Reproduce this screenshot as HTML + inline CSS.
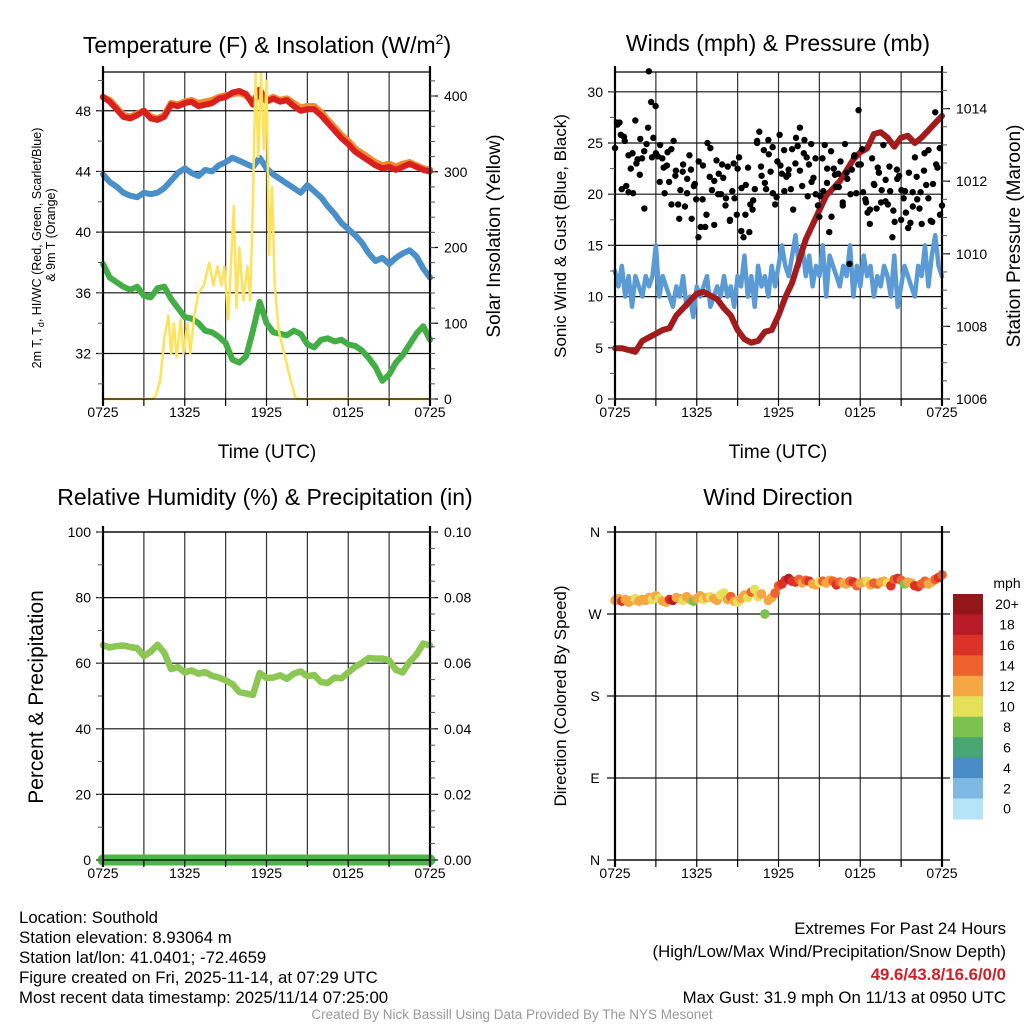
<!DOCTYPE html>
<html><head><meta charset="utf-8"><style>
html,body{margin:0;padding:0;background:#fff;}
svg{display:block;font-family:"Liberation Sans",sans-serif;}
.tk{font-size:14px;fill:#000;}
.ttl{font-size:23px;fill:#000;}
.ax{font-size:19px;fill:#000;}
.ft{font-family:"Liberation Sans",sans-serif;font-size:16.8px;fill:#000;}
</style></head><body>
<svg id="chart" width="1024" height="1024" viewBox="0 0 1024 1024" xmlns="http://www.w3.org/2000/svg">
<rect width="1024" height="1024" fill="#fff"/>
<g id="grids"></g>
<g id="series"></g>
<g id="axes"></g>

<text class="ttl" x="267" y="53" text-anchor="middle">Temperature (F) &amp; Insolation (W/m<tspan dy="-9" font-size="14">2</tspan><tspan dy="9">)</tspan></text>
<text class="ttl" x="778" y="51" text-anchor="middle">Winds (mph) &amp; Pressure (mb)</text>
<text class="ttl" x="265" y="505" text-anchor="middle">Relative Humidity (%) &amp; Precipitation (in)</text>
<text class="ttl" x="778" y="505" text-anchor="middle">Wind Direction</text>

<text class="ax" x="267" y="458" text-anchor="middle">Time (UTC)</text>
<text class="ax" x="778" y="458" text-anchor="middle">Time (UTC)</text>

<text font-size="12.5" text-anchor="middle" transform="translate(41,248) rotate(-90)">2m T, T<tspan font-size="9" dy="3">d</tspan><tspan dy="-3">, HI/WC (Red, Green, Scarlet/Blue)</tspan></text>
<text font-size="12.5" text-anchor="middle" transform="translate(55,235) rotate(-90)">&amp; 9m T (Orange)</text>
<text class="ax" text-anchor="middle" transform="translate(500,236) rotate(-90)">Solar Insolation (Yellow)</text>
<text font-size="17" text-anchor="middle" transform="translate(566,236) rotate(-90)">Sonic Wind &amp; Gust (Blue, Black)</text>
<text class="ax" text-anchor="middle" transform="translate(1020,236) rotate(-90)">Station Pressure (Maroon)</text>
<text font-size="21" text-anchor="middle" transform="translate(43,697) rotate(-90)">Percent &amp; Precipitation</text>
<text font-size="17" text-anchor="middle" transform="translate(566,696) rotate(-90)">Direction (Colored By Speed)</text>

<g id="colorbar"></g>
<text class="tk" x="1007" y="588" text-anchor="middle">mph</text>

<g>
<text class="ft" x="19" y="923">Location: Southold</text>
<text class="ft" x="19" y="943">Station elevation: 8.93064 m</text>
<text class="ft" x="19" y="963">Station lat/lon: 41.0401; -72.4659</text>
<text class="ft" x="19" y="983">Figure created on Fri, 2025-11-14, at 07:29 UTC</text>
<text class="ft" x="19" y="1003">Most recent data timestamp: 2025/11/14 07:25:00</text>
</g>
<g>
<text class="ft" x="1006" y="934" text-anchor="end">Extremes For Past 24 Hours</text>
<text class="ft" x="1006" y="957" text-anchor="end">(High/Low/Max Wind/Precipitation/Snow Depth)</text>
<text class="ft" x="1006" y="980" text-anchor="end" font-weight="bold" style="fill:#d02027">49.6/43.8/16.6/0/0</text>
<text class="ft" x="1006" y="1003" text-anchor="end">Max Gust: 31.9 mph On 11/13 at 0950 UTC</text>
</g>
<text x="512" y="1019" text-anchor="middle" font-family="'Liberation Sans',sans-serif" font-size="13.5" fill="#999">Created By Nick Bassill Using Data Provided By The NYS Mesonet</text>
</svg>
<script>
const timeLabels = ["0725","1325","1925","0125","0725"];
const tempTicks = [32,36,40,44,48];
const solarTicks = [0,100,200,300,400];
const windTicks = [0,5,10,15,20,25,30];
const presTicks = [1006,1008,1010,1012,1014];
const rhTicks = [0,20,40,60,80,100];
const precipTicks = ["0.00","0.02","0.04","0.06","0.08","0.10"];
const dirLabels = ["N","E","S","W","N"];
const speedBins = ["0","2","4","6","8","10","12","14","16","18","20+"];
const speedColors = ["#b5e3f7","#7db9e3","#4a8dc6","#47a672","#7cc24e","#e5e05a","#f5a744","#ef612d","#db3127","#b81b25","#92161a"];

const tempRed = [48.9,48.6,48.1,47.6,47.5,47.7,48.0,47.5,47.4,47.6,48.4,48.3,48.5,48.6,48.3,48.4,48.5,48.8,48.9,49.2,49.3,49.1,48.4,49.4,48.6,48.8,48.6,48.7,48.3,48.0,48.1,48.1,47.7,47.2,46.7,46.2,45.8,45.3,45.0,44.7,44.4,44.2,44.3,44.1,44.3,44.5,44.3,44.1,44.0];
const tempOrange = [48.9,48.7,48.2,47.7,47.6,47.8,48.0,47.6,47.5,47.7,48.5,48.4,48.6,48.7,48.5,48.6,48.7,48.9,49.0,49.1,49.2,49.0,48.6,49.3,48.7,48.9,48.7,48.8,48.5,48.2,48.3,48.3,47.9,47.4,46.9,46.4,46.0,45.5,45.2,44.9,44.6,44.4,44.5,44.3,44.5,44.6,44.4,44.2,44.1];
const tempBlue = [43.8,43.3,43.0,42.6,42.4,42.3,42.6,42.5,42.6,42.9,43.4,43.9,44.2,43.9,43.7,44.1,44.0,44.4,44.6,44.9,44.7,44.5,44.3,44.9,44.2,43.8,43.5,43.2,42.9,42.6,43.1,42.7,42.3,41.7,41.2,40.6,40.2,39.8,39.3,38.6,38.1,38.3,37.9,38.3,38.6,38.8,38.4,37.6,37.0];
const tempGreen = [37.9,37.0,36.7,36.4,36.2,36.4,35.8,35.7,36.3,36.4,35.6,35.0,34.4,34.3,34.0,33.5,33.4,33.1,32.7,31.6,31.4,31.8,33.5,35.4,34.0,33.4,33.3,33.2,33.5,33.3,32.6,32.4,32.9,33.0,32.8,32.9,32.6,32.5,32.2,31.7,31.1,30.2,30.6,31.4,31.9,32.6,33.3,33.8,32.9];
const solarHours = [0,3.6,3.9,4.2,4.5,4.8,5.0,5.2,5.4,5.7,5.9,6.2,6.4,6.7,7.0,7.4,7.8,8.1,8.4,8.7,8.9,9.2,9.4,9.6,9.8,10.0,10.3,10.6,10.8,11.0,11.2,11.4,11.6,11.8,12.0,12.2,12.4,12.6,12.9,13.3,13.7,14.1,14.3,24];
const solarValues = [0,0,5,25,80,110,60,100,55,105,60,100,60,110,140,150,180,150,175,150,175,105,180,255,120,200,130,175,130,260,430,320,430,330,420,190,280,150,90,60,30,3,0,0];

const windSpeed = [12.5,11,13,10,12,9,12,11,10,12,11,12,15,10,12,11,10,9,11,10,12,9,10,8,11,10,11,12,9,10,11,10,12,10,11,9,12,11,14,10,12,9,13,11,12,10,13,11,13,15,13,12,14,16,13,15,12,14,11,13,12,15,10,14,13,12,11,13,12,15,10,13,11,14,12,13,10,12,11,13,12,10,14,9,11,13,12,11,10,13,12,15,11,14,16,13,12];
const gustValues = [24.5,26.8,27.0,20.5,25.6,20.8,23.8,22.5,20.1,27.2,23.4,21.9,23.5,18.6,24.9,32.0,29.0,25.5,28.6,23.7,24.8,23.5,20.1,22.8,21.2,24.4,25.2,22.3,19.0,20.4,22.2,18.8,21.5,23.8,17.6,20.8,19.5,15.8,16.8,22.8,16.8,25.0,21.7,20.4,17.0,23.3,22.0,20.0,21.6,18.9,22.7,17.5,20.3,19.6,18.0,23.6,16.4,15.8,20.9,22.6,19.0,18.5,20.5,25.0,26.1,21.8,24.3,20.5,25.3,22.2,20.1,19.0,23.2,25.8,22.0,24.3,21.7,22.4,20.5,18.5,23.0,24.7,26.5,20.8,25.3,23.6,22.9,24.9,21.6,20.0,18.9,19.8,23.5,24.8,21.1,16.3,17.8,22.5,20.7,22.0,23.2,18.9,24.9,21.5,13.2,22.4,23.7,20.1,28.2,22.9,20.2,19.5,18.2,17.1,23.5,20.9,18.6,22.1,19.2,24.8,21.4,19.0,20.3,15.8,17.3,22.4,21.8,20.4,19.6,18.2,16.7,17.2,20.2,23.6,19.5,18.6,17.1,22.3,20.9,24.3,17.4,21.0,28.0,22.6,24.5,18.9];
const gustValues2 = [27.0,25.8,25.2,20.2,24.0,23.0,25.4,24.2,26.5,23.6,24.0,21.2,22.6,24.1,19.0,21.8,17.6,22.9,20.1,22.4,21.0,23.2,19.5,18.0,24.5,21.3,20.0,22.9,19.6,17.4,23.0,22.5,20.6,18.0,16.3,19.4,25.2,22.7,21.1,23.9,24.6,19.7,22.8,20.3,21.9,24.4,25.5,22.3,24.0,19.8,21.2,23.5,17.8,20.3,22.5,24.2,21.9,20.7,19.2,22.1,20.0,23.8,22.9,24.4,19.2,18.5,21.0,22.6,20.4,19.3,22.7,18.4,21.5,17.5,20.3,22.1,18.8,21.7,20.2,24.0,19.6,17.3,22.9,18.0];
const pressure = [1007.4,1007.4,1007.35,1007.3,1007.6,1007.7,1007.8,1007.9,1007.95,1008.3,1008.5,1008.7,1008.9,1008.95,1008.85,1008.75,1008.5,1008.3,1007.9,1007.65,1007.55,1007.6,1007.85,1007.9,1008.3,1008.8,1009.2,1009.8,1010.4,1010.8,1011.2,1011.6,1011.8,1012.0,1012.3,1012.6,1012.8,1012.9,1013.3,1013.35,1013.2,1012.95,1013.2,1013.25,1013.05,1013.2,1013.4,1013.6,1013.8];

const humidity = [65.5,64.8,65.2,65.4,64.9,64.6,62.2,63.5,65.6,63.2,58.2,58.8,57.2,57.8,56.8,57.3,56.2,55.6,54.8,53.6,51.2,50.8,50.3,57.0,55.5,55.6,56.3,55.2,56.8,57.5,56.0,56.4,54.2,54.0,55.6,55.4,57.2,58.9,60.1,61.6,61.4,61.4,60.9,58.0,57.2,60.4,62.6,66.0,65.4];
const precip = [0,0,0,0,0,0,0,0,0,0,0,0,0,0,0,0,0,0,0,0,0,0,0,0,0];

const windDir = [285,287,284,286,283,285,287,284,286,285,288,286,290,287,284,283,286,285,288,287,285,289,286,284,287,290,286,288,289,287,285,291,293,286,289,284,283,287,291,288,294,297,289,292,270,285,288,293,301,303,307,309,306,305,308,304,307,306,303,302,305,306,304,307,306,302,305,304,303,306,305,301,304,305,306,302,304,303,305,306,304,301,308,309,307,303,305,304,301,300,303,306,303,305,308,310,313];
const dirSpeed = [13,12,16,12,13,12,11,12,13,12,13,11,12,10,12,13,17,18,13,12,11,13,12,8,12,13,11,12,10,13,12,11,10,12,14,12,10,12,13,10,14,10,11,12,8,12,13,14,15,16,17,18,17,16,14,13,15,16,12,13,11,14,12,13,15,16,14,12,13,14,16,15,12,13,11,12,14,15,13,12,11,16,15,17,14,8,12,13,16,17,14,15,12,13,14,16,15];

const NS = "http://www.w3.org/2000/svg";
const gGrid = document.getElementById("grids");
const gSer = document.getElementById("series");
const gAx = document.getElementById("axes");
const gCb = document.getElementById("colorbar");
function mk(tag, attrs, parent){const e=document.createElementNS(NS,tag);for(const k in attrs)e.setAttribute(k,attrs[k]);parent.appendChild(e);return e;}

const P = {
  temp:{L:103,R:430,T:72,B:399},
  wind:{L:615,R:942,T:72,B:399},
  rh:{L:103,R:430,T:532,B:860},
  dir:{L:615,R:942,T:532,B:860}
};
function xAt(p,h){return p.L + h/24*(p.R-p.L);}
const yTemp = v => 399 - (v-29)*15.17;
const ySolar = v => 399 - v*0.7575;
const yWind = v => 399 - v*10.24;
const yPres = v => 399 - (v-1006)*36.3;
const yRH = v => 860 - v*3.28;
const yPrecip = v => 860 - v*3280;
const yDir = d => 860 - d/360*328;

function idxHour(i,n){return i/(n-1)*24;}

function frame(p, key){
  for(let k=1;k<8;k++){
    const x=xAt(p,k*3);
    const l=mk("line",{x1:x,x2:x,y1:p.T,y2:p.B,stroke:"#333","stroke-width":1.2},gGrid);
    
    
  }
  const top=mk("line",{x1:p.L,x2:p.R,y1:p.T,y2:p.T,stroke:"#000","stroke-width":1.3},gAx);
  
  
  const bot=mk("line",{x1:p.L,x2:p.R,y1:p.B,y2:p.B,stroke:"#000","stroke-width":1.3},gAx);
  
  
  const lf=mk("line",{x1:p.L,x2:p.L,y1:p.T-6,y2:p.B+7,stroke:"#000","stroke-width":2.2},gAx);
  
  
  const rt=mk("line",{x1:p.R,x2:p.R,y1:p.T-6,y2:p.B+7,stroke:"#000","stroke-width":2.2},gAx);
  
  
  for(let k=0;k<=8;k++){
    const x=xAt(p,k*3);
    const t=mk("line",{x1:x,x2:x,y1:p.B,y2:p.B+7,stroke:"#000","stroke-width":1.2},gAx);
    
    
  }
  timeLabels.forEach((s,i)=>{
    const t=mk("text",{x:xAt(p,i*6),y:p.B+18,"text-anchor":"middle",class:"tk"},gAx);
    t.textContent=s;
    
    
  });
}
function yTicks(p,key,ticks,yf,side,labels,minor){
  ticks.forEach((v,i)=>{
    const y=yf(v);
    if(side==="left"){
      const g=mk("line",{x1:p.L-7,x2:p.R,y1:y,y2:y,stroke:"#111","stroke-width":1.2},gGrid);
      
      
      const t=mk("text",{x:p.L-12,y:y+5,"text-anchor":"end",class:"tk"},gAx);
      t.textContent=labels?labels[i]:String(v);
      
      
    } else {
      const g=mk("line",{x1:p.R,x2:p.R+8,y1:y,y2:y,stroke:"#000","stroke-width":1.2},gAx);
      
      
      const t=mk("text",{x:p.R+14,y:y+5,"text-anchor":"start",class:"tk"},gAx);
      t.textContent=labels?labels[i]:String(v);
      
      
    }
  });
  if(minor){
    for(let v=minor[0]; v<=minor[1]+1e-9; v+=minor[2]){
      const y=yf(v); if(y<p.T-1||y>p.B+1) continue;
      const m = side==="left" ? mk("line",{x1:p.L-5,x2:p.L,y1:y,y2:y,stroke:"#555","stroke-width":1},gAx)
                              : mk("line",{x1:p.R,x2:p.R+5,y1:y,y2:y,stroke:"#555","stroke-width":1},gAx);
      
      
    }
  }
}
frame(P.temp,"temp"); frame(P.wind,"wind"); frame(P.rh,"rh"); frame(P.dir,"dir");
yTicks(P.temp,"temp",tempTicks,yTemp,"left",null,[30,50,2]);
yTicks(P.temp,"solar",solarTicks,ySolar,"right",null,[0,420,20]);
yTicks(P.wind,"wind",windTicks,yWind,"left",null,[0,32,2.5]);
yTicks(P.wind,"pressure",presTicks,yPres,"right",null,[1006,1015,0.5]);
yTicks(P.rh,"rh",rhTicks,yRH,"left",null,[0,100,10]);
yTicks(P.rh,"precip",[0,0.02,0.04,0.06,0.08,0.10],yPrecip,"right",precipTicks,[0,0.1,0.005]);
dirLabels.forEach((s,i)=>{
  const y=yDir(i*90);
  const g=mk("line",{x1:P.dir.L-8,x2:P.dir.R+8,y1:y,y2:y,stroke:"#111","stroke-width":1.2},gGrid);
  
  
  const t=mk("text",{x:P.dir.L-20,y:y+5,"text-anchor":"middle",class:"tk"},gAx);
  t.textContent=s;
  
  
});

function line(p, arr, yf, color, w, name, hours){
  const pts = arr.map((v,i)=>xAt(p, hours?hours[i]:idxHour(i,arr.length)).toFixed(1)+","+yf(v).toFixed(1)).join(" ");
  const e=mk("polyline",{points:pts,fill:"none",stroke:color,"stroke-width":w,"stroke-linejoin":"round","stroke-linecap":"round"},gSer);
  
  
  return e;
}
line(P.temp,tempOrange,yTemp,"#f38a2c",6.5,"temp-9m-orange-line");
line(P.temp,tempRed,yTemp,"#d9201f",6,"temp-2m-red-line");
line(P.temp,tempBlue,yTemp,"#4a8fc8",6,"heat-index-windchill-blue-line");
line(P.temp,tempGreen,yTemp,"#43ae45",6,"dewpoint-green-line");
line(P.temp,solarValues,ySolar,"#fde35a",2.5,"solar-insolation-yellow-line",solarHours);
line(P.wind,windSpeed,yWind,"#5b9bd5",4.5,"sonic-wind-blue-line");
line(P.wind,pressure,yPres,"#a21c1d",6,"station-pressure-maroon-line");
gustValues.forEach((v,i)=>{
  const c=mk("circle",{cx:xAt(P.wind,idxHour(i,gustValues.length)),cy:yWind(v),r:3.2,fill:"#000"},gSer);
  
  
});
gustValues2.forEach((v,i)=>{
  const c=mk("circle",{cx:xAt(P.wind,(i+0.5)/gustValues2.length*24),cy:yWind(v),r:3.2,fill:"#000"},gSer);
  
  
});
line(P.rh,humidity,yRH,"#8cc653",6.5,"relative-humidity-line");
line(P.rh,precip,yPrecip,"#4cb649",11,"precipitation-line");
windDir.forEach((d,i)=>{
  const b=Math.min(10,Math.max(0,Math.floor(dirSpeed[i]/2)));
  const c=mk("circle",{cx:xAt(P.dir,idxHour(i,windDir.length)),cy:yDir(d),r:4.8,fill:speedColors[b]},gSer);
  
  
});
const cbTop=594, cbH=20.45;
speedBins.slice().reverse().forEach((lab,k)=>{
  const idx=speedBins.length-1-k;
  const r=mk("rect",{x:953,y:cbTop+k*cbH,width:30,height:cbH+0.5,fill:speedColors[idx]},gCb);
  
  
  const t=mk("text",{x:1007,y:cbTop+k*cbH+cbH/2+5,"text-anchor":"middle",class:"tk"},gCb);
  t.textContent=lab;
  
  
});
</script>
</body></html>
